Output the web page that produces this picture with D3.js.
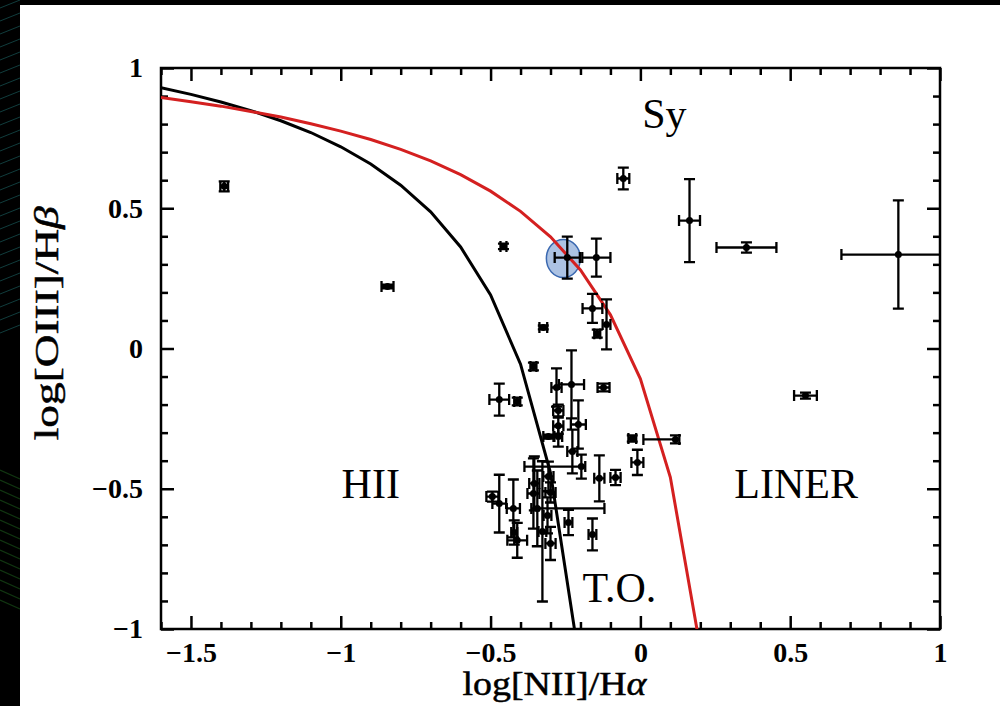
<!DOCTYPE html>
<html>
<head>
<meta charset="utf-8">
<script src="https://cdn.jsdelivr.net/npm/d3@7"></script>
<style>
  body { margin: 0; background: #000; }
  svg { display: block; }
</style>
</head>
<body>
<svg id="chart"></svg>
<script>
// Axis ticks
const xMajor = [-1.5, -1, -0.5, 0, 0.5, 1];
const xTickLabels = ["\u22121.5", "\u22121", "\u22120.5", "0", "0.5", "1"];
const yMajor = [1, 0.5, 0, -0.5, -1];
const yTickLabels = ["1", "0.5", "0", "\u22120.5", "\u22121"];

// Demarcation lines sampled at 0.1 steps
const kaufX = [-1.6, -1.5, -1.4, -1.3, -1.2, -1.1, -1.0, -0.9, -0.8, -0.7, -0.6, -0.5, -0.4, -0.3, -0.2];
const kaufY = [0.930, 0.906, 0.879, 0.848, 0.812, 0.770, 0.719, 0.658, 0.582, 0.487, 0.362, 0.191, -0.056, -0.443, -1.14];
const kewX = [-1.6, -1.5, -1.4, -1.3, -1.2, -1.1, -1.0, -0.9, -0.8, -0.7, -0.6, -0.5, -0.4, -0.3, -0.2, -0.1, 0.0, 0.1, 0.2];
const kewY = [0.895, 0.880, 0.864, 0.845, 0.825, 0.801, 0.775, 0.745, 0.710, 0.669, 0.620, 0.561, 0.489, 0.398, 0.280, 0.120, -0.108, -0.459, -1.069];

// Galaxies: position and error bars (lo / hi)
const galX = [-1.389, -0.844, -0.457, -0.244, -0.147, -0.057, -0.160, -0.113, -0.144, -0.324,
  -0.357, -0.471, -0.411, -0.280, -0.230, -0.123, -0.274, -0.207, -0.274, -0.307,
  -0.274, -0.227, -0.197, -0.137, -0.083, -0.027, -0.010, 0.117, -0.354, -0.357,
  -0.307, -0.300, -0.494, -0.471, -0.424, -0.344, -0.310, -0.240, -0.160, -0.421,
  -0.411, -0.327, -0.300, 0.551, 0.164, 0.354, 0.861];
const galY = [0.578, 0.221, 0.364, 0.324, 0.324, 0.606, 0.143, 0.086, 0.053, 0.075,
  -0.064, -0.182, -0.189, -0.139, -0.128, -0.139, -0.221, -0.271, -0.275, -0.314,
  -0.314, -0.367, -0.421, -0.463, -0.460, -0.321, -0.406, -0.324, -0.481, -0.517,
  -0.456, -0.513, -0.528, -0.553, -0.570, -0.570, -0.595, -0.620, -0.663, -0.656,
  -0.684, -0.652, -0.695, -0.168, 0.456, 0.360, 0.335];
const errXLo = [0.013, 0.02, 0.01, 0.042, 0.047, 0.02, 0.033, 0.013, 0.01, 0.013,
  0.01, 0.033, 0.01, 0.017, 0.042, 0.02, 0.017, 0.025, 0.017, 0.017,
  0.013, 0.017, 0.19, 0.017, 0.017, 0.013, 0.02, 0.107, 0.017, 0.02,
  0.017, 0.017, 0.02, 0.023, 0.022, 0.02, 0.013, 0.013, 0.013, 0.01,
  0.033, 0.013, 0.017, 0.038, 0.035, 0.1, 0.19];
const errXHi = [0.013, 0.02, 0.01, 0.042, 0.047, 0.02, 0.033, 0.013, 0.01, 0.013,
  0.01, 0.033, 0.01, 0.017, 0.042, 0.02, 0.017, 0.025, 0.017, 0.017,
  0.013, 0.017, 0.013, 0.017, 0.017, 0.013, 0.02, 0.013, 0.017, 0.02,
  0.017, 0.017, 0.02, 0.023, 0.022, 0.224, 0.013, 0.013, 0.013, 0.01,
  0.033, 0.013, 0.017, 0.038, 0.035, 0.1, 0.19];
const errYLo = [0.018, 0.007, 0.01, 0.075, 0.068, 0.039, 0.052, 0.089, 0.014, 0.007,
  0.014, 0.057, 0.014, 0.068, 0.121, 0.014, 0.021, 0.086, 0.029, 0.007,
  0.036, 0.078, 0.043, 0.082, 0.027, 0.011, 0.045, 0.014, 0.096, 0.125,
  0.053, 0.036, 0.018, 0.103, 0.103, 0.135, 0.064, 0.045, 0.057, 0.043,
  0.062, 0.25, 0.059, 0.011, 0.148, 0.018, 0.193];
const errYHi = errYLo;

// Highlighted object
const highlightX = [-0.257];
const highlightY = [0.321];

// Region labels
const regionNames = ["Sy", "HII", "LINER", "T.O."];
const regionX = [0.08, -0.9, 0.52, -0.07];
const regionY = [0.82, -0.5, -0.5, -0.87];

const W = 1000, H = 706;
const margin = { top: 68, right: 60, bottom: 77, left: 161 };
const width = W - margin.left - margin.right;
const height = H - margin.top - margin.bottom;

const root = d3.select("#chart").attr("width", W).attr("height", H);

// white page with dark border streaks
root.append("rect").attr("width", W).attr("height", H).attr("fill", "#000");
const streaks = root.append("g");
for (let i = 0; i < 26; i++) {
  const y0 = i * 13;
  streaks.append("line")
    .attr("x1", 0).attr("y1", y0 + 8).attr("x2", 20).attr("y2", y0)
    .attr("stroke", "#1f6f6f").attr("stroke-opacity", 0.55).attr("stroke-width", 1);
}
for (let i = 0; i < 14; i++) {
  const y0 = 470 + i * 10;
  streaks.append("line")
    .attr("x1", 0).attr("y1", y0).attr("x2", 20).attr("y2", y0 + 9)
    .attr("stroke", "#1d5a1d").attr("stroke-opacity", 0.6).attr("stroke-width", 1.2);
}
root.append("rect").attr("x", 20).attr("y", 5).attr("width", W - 20).attr("height", H - 5).attr("fill", "#fff");

const svg = root.append("g").attr("transform", `translate(${margin.left},${margin.top})`);

const x = d3.scaleLinear().domain([-1.6, 1]).range([0, width]);
const y = d3.scaleLinear().domain([-1, 1]).range([height, 0]);

svg.append("clipPath").attr("id", "plot-clip")
  .append("rect").attr("width", width).attr("height", height);

const xMinor = d3.range(-16, 11).map(i => i / 10).filter(v => !xMajor.some(m => Math.abs(m - v) < 1e-9));
const yMinor = d3.range(-10, 11).map(i => i / 10).filter(v => !yMajor.some(m => Math.abs(m - v) < 1e-9));

const serif = "'Liberation Serif', 'Times New Roman', serif";

function drawAxis(axis, transform) {
  const g = svg.append("g").attr("transform", transform).call(axis);
  g.select(".domain").remove();
  g.selectAll(".tick line").attr("stroke", "#000").attr("stroke-width", 2.5);
  g.selectAll("text").attr("font-family", serif).attr("font-weight", "bold")
    .attr("font-size", 28).attr("fill", "#000");
  return g;
}

// bottom
drawAxis(d3.axisBottom(x).tickValues(xMajor).tickSize(-13).tickPadding(13)
  .tickFormat((d, i) => xTickLabels[i]), `translate(0,${height})`);
drawAxis(d3.axisBottom(x).tickValues(xMinor).tickSize(-7).tickFormat(""), `translate(0,${height})`);
// top
drawAxis(d3.axisTop(x).tickValues(xMajor).tickSize(-13).tickFormat(""), "translate(0,0)");
drawAxis(d3.axisTop(x).tickValues(xMinor).tickSize(-7).tickFormat(""), "translate(0,0)");
// left
drawAxis(d3.axisLeft(y).tickValues(yMajor).tickSize(-13).tickPadding(18)
  .tickFormat((d, i) => yTickLabels[i]), "translate(0,0)");
drawAxis(d3.axisLeft(y).tickValues(yMinor).tickSize(-7).tickFormat(""), "translate(0,0)");
// right
drawAxis(d3.axisRight(y).tickValues(yMajor).tickSize(-13).tickFormat(""), `translate(${width},0)`);
drawAxis(d3.axisRight(y).tickValues(yMinor).tickSize(-7).tickFormat(""), `translate(${width},0)`);

// frame
svg.append("rect").attr("width", width).attr("height", height)
  .attr("fill", "none").attr("stroke", "#000").attr("stroke-width", 2.5);

const plot = svg.append("g").attr("clip-path", "url(#plot-clip)");

// highlight ellipse (drawn under the marks)
plot.selectAll(".highlight")
  .data(highlightX.map((v, i) => ({ x: v, y: highlightY[i] })))
  .enter().append("ellipse")
  .attr("cx", d => x(d.x)).attr("cy", d => y(d.y))
  .attr("rx", 17).attr("ry", 19)
  .attr("fill", "#9db7de").attr("fill-opacity", 0.85)
  .attr("stroke", "#3a68b0").attr("stroke-width", 1.5);

// demarcation curves
const line = d3.line().x(d => x(d[0])).y(d => y(d[1]));
plot.append("path").datum(kaufX.map((v, i) => [v, kaufY[i]]))
  .attr("d", line).attr("fill", "none").attr("stroke", "#000").attr("stroke-width", 3);
plot.append("path").datum(kewX.map((v, i) => [v, kewY[i]]))
  .attr("d", line).attr("fill", "none").attr("stroke", "#d42020").attr("stroke-width", 3);

// galaxies with error bars
const gals = galX.map((v, i) => ({
  x: v, y: galY[i], xlo: errXLo[i], xhi: errXHi[i], ylo: errYLo[i], yhi: errYHi[i]
}));
const cap = 5.5;
const pts = plot.selectAll(".gal").data(gals).enter().append("g").attr("class", "gal");
pts.append("path")
  .attr("d", d => {
    const cx = x(d.x), cy = y(d.y);
    const x0 = x(d.x - d.xlo), x1 = x(d.x + d.xhi);
    const y0 = y(d.y - d.ylo), y1 = y(d.y + d.yhi);
    return `M${x0},${cy}H${x1}M${x0},${cy - cap}V${cy + cap}M${x1},${cy - cap}V${cy + cap}` +
      `M${cx},${y0}V${y1}M${cx - cap},${y0}H${cx + cap}M${cx - cap},${y1}H${cx + cap}`;
  })
  .attr("fill", "none").attr("stroke", "#000").attr("stroke-width", 2.3);
pts.append("circle")
  .attr("cx", d => x(d.x)).attr("cy", d => y(d.y)).attr("r", 3.5).attr("fill", "#000");

// region labels
svg.selectAll(".region").data(regionNames).enter().append("text")
  .attr("x", (d, i) => x(regionX[i])).attr("y", (d, i) => y(regionY[i]))
  .attr("text-anchor", "middle").attr("dominant-baseline", "middle")
  .attr("font-family", serif)
  .attr("font-size", 42).attr("fill", "#000")
  .text(d => d);

// axis titles
svg.append("text")
  .attr("x", width / 2 + 4).attr("y", height + 66)
  .attr("text-anchor", "middle")
  .attr("font-family", serif)
  .attr("font-size", 34).attr("fill", "#000")
  .attr("stroke", "#000").attr("stroke-width", 0.5)
  .attr("textLength", 184).attr("lengthAdjust", "spacingAndGlyphs")
  .html("log[NII]/H<tspan font-style='italic'>\u03b1</tspan>");

svg.append("text")
  .attr("transform", `translate(${-103},${y(0.09)}) rotate(-90)`)
  .attr("text-anchor", "middle")
  .attr("font-family", serif)
  .attr("font-size", 34).attr("fill", "#000")
  .attr("stroke", "#000").attr("stroke-width", 0.5)
  .attr("textLength", 234).attr("lengthAdjust", "spacingAndGlyphs")
  .html("log[OIII]/H<tspan font-style='italic'>\u03b2</tspan>");
</script>
</body>
</html>
